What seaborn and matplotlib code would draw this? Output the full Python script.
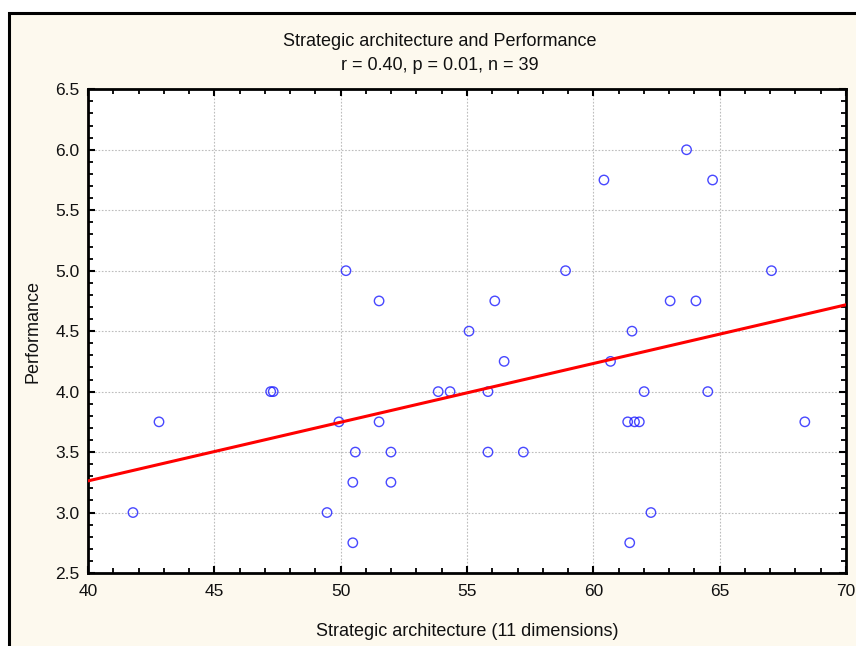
import matplotlib
matplotlib.use("Agg")
import matplotlib.pyplot as plt
from matplotlib.patches import Rectangle
from matplotlib.ticker import MultipleLocator
import numpy as np
import pandas as pd
import seaborn as sns

# Strategic architecture score (11 dimensions) and performance rating per firm
architecture = [
    50.21, 51.52, 63.69, 60.42, 64.72, 58.90, 67.05, 56.10, 63.04, 64.06,
    47.23, 47.33, 42.81, 49.93, 51.52, 50.58, 51.99, 50.48, 51.99, 41.78,
    49.46, 50.48, 55.08, 61.53, 56.47, 60.68, 53.86, 54.33, 55.83, 62.01,
    64.53, 61.36, 61.63, 61.82, 68.37, 55.83, 57.23, 62.28, 61.44,
]
performance = [
    5.00, 4.75, 6.00, 5.75, 5.75, 5.00, 5.00, 4.75, 4.75, 4.75,
    4.00, 4.00, 3.75, 3.75, 3.75, 3.50, 3.50, 3.25, 3.25, 3.00,
    3.00, 2.75, 4.50, 4.50, 4.25, 4.25, 4.00, 4.00, 4.00, 4.00,
    4.00, 3.75, 3.75, 3.75, 3.75, 3.50, 3.50, 3.00, 2.75,
]

title_text = "Strategic architecture and Performance"
stats_text = "r = 0.40, p = 0.01, n = 39"
x_label = "Strategic architecture (11 dimensions)"
y_label = "Performance"

df = pd.DataFrame({"arch": architecture, "perf": performance})

sns.set_theme(style="white")
plt.rcParams["font.family"] = ["Liberation Sans", "DejaVu Sans"]

W, H = 856, 646
fig = plt.figure(figsize=(W / 100, H / 100), dpi=100, facecolor="white")

# cream panel with a black frame on its left and top edges
panel = Rectangle((8.5 / W, -0.05), 1.2, (H - 13) / H + 0.05,
                  transform=fig.transFigure, facecolor="#fdf9ee",
                  edgecolor="black", linewidth=2.2, zorder=-10)
fig.patches.append(panel)

ax = fig.add_axes([88 / W, (H - 573) / H, (846 - 88) / W, (573 - 89.3) / H])
ax.set_zorder(5)
ax.set_facecolor("white")
ax.set_xlim(40, 70)
ax.set_ylim(2.5, 6.5)

sns.regplot(
    data=df, x="arch", y="perf", ax=ax, ci=None, truncate=False,
    marker="o",
    scatter_kws=dict(s=46, facecolors="none", edgecolors="#1a1aff",
                     linewidths=1.0, zorder=3),
    line_kws=dict(color="#ff0000", linewidth=2.2, zorder=4),
)
ax.set_xlim(40, 70)
ax.set_ylim(2.5, 6.5)

ax.xaxis.set_major_locator(MultipleLocator(5))
ax.xaxis.set_minor_locator(MultipleLocator(1))
ax.yaxis.set_major_locator(MultipleLocator(0.5))
ax.yaxis.set_minor_locator(MultipleLocator(0.1))
ax.set_xticks(np.arange(40, 71, 5))
ax.set_xticklabels([f"{v:g}" for v in np.arange(40, 71, 5)])
ax.set_yticks(np.arange(2.5, 6.51, 0.5))
ax.set_yticklabels([f"{v:.1f}" for v in np.arange(2.5, 6.51, 0.5)])

ax.grid(True, which="major", color="#bdbdbd", linestyle=(0, (1.5, 1.5)),
        linewidth=0.8)
ax.set_axisbelow(True)

for side in ax.spines.values():
    side.set_visible(True)
    side.set_color("black")
    side.set_linewidth(2.0)

ax.tick_params(which="both", direction="in", top=True, right=True,
               bottom=True, left=True, colors="black", labelsize=12.5)
ax.tick_params(which="major", length=5, width=1.5)
ax.tick_params(which="minor", length=3.5, width=1.3)
ax.tick_params(axis="x", which="major", pad=8)
ax.tick_params(axis="y", which="major", pad=6)
for lab in ax.get_xticklabels() + ax.get_yticklabels():
    lab.set_color("#111111")

ax.set_xlabel(x_label, fontsize=13, color="#111111", labelpad=0)
ax.set_ylabel(y_label, fontsize=13, color="#111111", labelpad=0)
ax.xaxis.set_label_coords(0.5, -(632 - 573) / (573 - 89.3))
ax.yaxis.set_label_coords(-(88 - 33) / (846 - 88), 0.5)
ax.xaxis.label.set_va("center")
ax.yaxis.label.set_va("center")

fig.text(440 / W, 1 - 41 / H, title_text, ha="center", va="center",
         fontsize=13, color="#111111")
fig.text(440 / W, 1 - 65 / H, stats_text, ha="center", va="center",
         fontsize=13, color="#111111")

fig.savefig("out.png", dpi=100, facecolor=fig.get_facecolor())
